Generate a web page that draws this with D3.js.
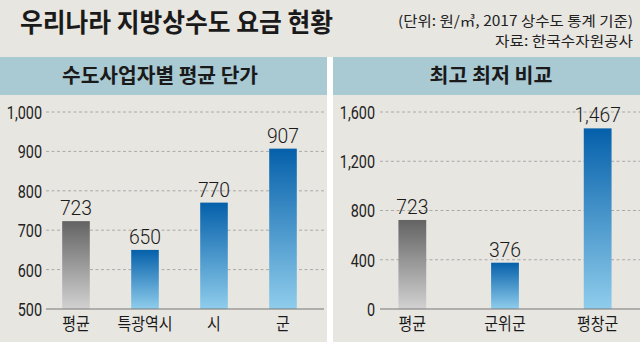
<!DOCTYPE html>
<html><head><meta charset="utf-8">
<script src="https://cdn.jsdelivr.net/npm/d3@7/dist/d3.min.js"></script>
<style>
html,body{margin:0;padding:0;background:#e8e6e1;}
svg{display:block;}
</style></head>
<body>
<script>
// ---- data ----
const title = "우리나라 지방상수도 요금 현황";
const unitNote = "(단위: 원/㎥, 2017 상수도 통계 기준)";
const sourceNote = "자료: 한국수자원공사";

const leftTitle = "수도사업자별 평균 단가";
const leftCategories = ["평균", "특광역시", "시", "군"];
const leftValues = [723, 650, 770, 907];
const leftTicks = [500, 600, 700, 800, 900, 1000];

const rightTitle = "최고 최저 비교";
const rightCategories = ["평균", "군위군", "평창군"];
const rightValues = [723, 376, 1467];
const rightTicks = [0, 400, 800, 1200, 1600];

// ---- drawing ----
const W = 640, H = 342;
const svg = d3.select("body").append("svg").attr("width", W).attr("height", H);
const defs = svg.append("defs");

function grad(id, top, bottom) {
  const g = defs.append("linearGradient").attr("id", id)
    .attr("x1", 0).attr("y1", 0).attr("x2", 0).attr("y2", 1);
  g.append("stop").attr("offset", "0%").attr("stop-color", top);
  g.append("stop").attr("offset", "100%").attr("stop-color", bottom);
}
grad("gGray", "#636363", "#d2d2d2");
grad("gBlue", "#0560aa", "#8fcdec");

svg.append("rect").attr("width", W).attr("height", H).attr("fill", "#e8e6e1");

const KR = "'Noto Sans CJK KR', 'Noto Sans', sans-serif";
const NUM = "Roboto, 'Liberation Sans', Arial, sans-serif";

function squeeze(sel, f) {
  sel.each(function () {
    const w = this.getComputedTextLength();
    d3.select(this).attr("textLength", w * f).attr("lengthAdjust", "spacingAndGlyphs");
  });
}

// title
svg.append("text").attr("x", 20).attr("y", 32)
  .attr("font-family", KR).attr("font-weight", 700).attr("font-size", 26)
  .attr("fill", "#1a1a1a").attr("textLength", 313).attr("lengthAdjust", "spacingAndGlyphs")
  .text(title);
svg.append("text").attr("x", 633).attr("y", 26).attr("text-anchor", "end")
  .attr("font-family", KR).attr("font-size", 14).attr("fill", "#222")
  .attr("textLength", 235).attr("lengthAdjust", "spacingAndGlyphs")
  .text(unitNote);
svg.append("text").attr("x", 633).attr("y", 46).attr("text-anchor", "end")
  .attr("font-family", KR).attr("font-size", 14).attr("fill", "#222")
  .attr("textLength", 138).attr("lengthAdjust", "spacingAndGlyphs")
  .text(sourceNote);

// separator
svg.append("rect").attr("x", 327).attr("y", 57).attr("width", 6).attr("height", H - 57).attr("fill", "#ffffff");

function panel(cfg) {
  // header
  svg.append("rect").attr("x", cfg.hx0).attr("y", 57).attr("width", cfg.hx1 - cfg.hx0).attr("height", 38)
    .attr("fill", "#a9c9d3");
  svg.append("text").attr("x", cfg.hcx).attr("y", 83).attr("text-anchor", "middle")
    .attr("font-family", KR).attr("font-weight", 700).attr("font-size", 20).attr("fill", "#1a1a1a")
    .attr("textLength", cfg.hlen).attr("lengthAdjust", "spacingAndGlyphs")
    .text(cfg.title);

  const y = d3.scaleLinear().domain(cfg.domain).range([309, 112]);
  const x = d3.scaleBand().domain(cfg.categories).range([cfg.x0, cfg.x1]).paddingInner(cfg.padIn).paddingOuter(cfg.padOut);

  const g = svg.append("g");
  // grid
  g.selectAll("line.grid").data(cfg.ticks.filter(t => t !== cfg.domain[0])).join("line")
    .attr("x1", cfg.gx0).attr("x2", cfg.gx1)
    .attr("y1", d => y(d)).attr("y2", d => y(d))
    .attr("stroke", "#9a9a9a").attr("stroke-width", 0.8).attr("stroke-dasharray", "3,2.5");

  // y axis labels using d3 axis
  const ax = d3.axisLeft(y).tickValues(cfg.ticks).tickSize(0).tickPadding(0)
    .tickFormat(d3.format(","));
  const axg = svg.append("g").attr("transform", `translate(${cfg.lx},0)`).call(ax);
  axg.select(".domain").remove();
  axg.selectAll("text").attr("font-family", NUM).attr("font-weight", 400).attr("font-size", 18)
    .attr("fill", "#222").attr("dy", "0.36em");
  squeeze(axg.selectAll("text"), 0.8);

  // bars
  g.selectAll("rect.bar").data(cfg.values).join("rect")
    .attr("x", (d, i) => x(cfg.categories[i]))
    .attr("width", x.bandwidth())
    .attr("y", d => y(d))
    .attr("height", d => y(cfg.domain[0]) - y(d))
    .attr("fill", (d, i) => i === 0 ? "url(#gGray)" : "url(#gBlue)");

  // value labels
  const vl = g.selectAll("text.val").data(cfg.values).join("text")
    .attr("x", (d, i) => x(cfg.categories[i]) + x.bandwidth() / 2)
    .attr("y", d => y(d) - 6)
    .attr("text-anchor", "middle")
    .attr("font-family", NUM).attr("font-weight", 300).attr("font-size", 21).attr("fill", "#1a1a1a")
    .text(d => d3.format(",")(d));
  squeeze(vl, 0.92);

  // baseline
  g.append("line").attr("x1", cfg.gx0).attr("x2", cfg.gx1)
    .attr("y1", y(cfg.domain[0])).attr("y2", y(cfg.domain[0]))
    .attr("stroke", "#777").attr("stroke-width", 1);

  // category labels
  const xa = d3.axisBottom(x).tickSize(0).tickPadding(0);
  const xg = svg.append("g").attr("transform", "translate(0,318)").call(xa);
  xg.select(".domain").remove();
  xg.selectAll("text").attr("font-family", KR).attr("font-size", 17).attr("fill", "#1a1a1a").attr("dy", "0.72em");
  squeeze(xg.selectAll("text"), 0.88);
}

panel({
  title: leftTitle, categories: leftCategories, values: leftValues, ticks: leftTicks,
  domain: [500, 1000], hx0: 0, hx1: 327, hcx: 160, hlen: 196,
  x0: 41.5, x1: 317.5, padIn: 0.6, padOut: 0.3, gx0: 46, gx1: 324, lx: 42
});
panel({
  title: rightTitle, categories: rightCategories, values: rightValues, ticks: rightTicks,
  domain: [0, 1600], hx0: 333, hx1: 640, hcx: 491, hlen: 123,
  x0: 366, x1: 644, padIn: 0.7, padOut: 0.35, gx0: 380, gx1: 640, lx: 375
});
</script>
</body></html>
